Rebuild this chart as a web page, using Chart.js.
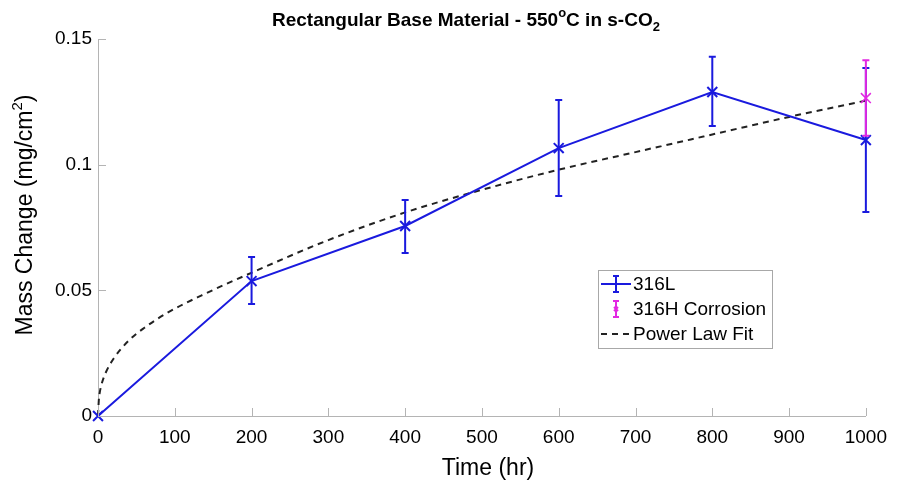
<!DOCTYPE html>
<html>
<head>
<meta charset="utf-8">
<script src="https://cdn.jsdelivr.net/npm/chart.js@4.4.1/dist/chart.umd.min.js"></script>
<style>
  html, body { margin: 0; padding: 0; background: #fff; }
  #wrap { width: 897px; height: 482px; }
</style>
</head>
<body>
<div id="wrap"><canvas id="massChart"></canvas></div>
<script>
const hours = [0, 200, 400, 600, 800, 1000];
const mass316L = [0, 0.0537, 0.0756, 0.1066, 0.1289, 0.1098];
const err316LUp = [0, 0.0096, 0.0103, 0.0191, 0.0140, 0.0287];
const err316LDown = [0, 0.0091, 0.0107, 0.0191, 0.0135, 0.0286];

const hours316H = [1000];
const mass316H = [0.1265];
const err316HUp = [0.0150];
const err316HDown = [0.0150];

// power law fit curve, sampled from the figure
const fitHours = [0, 1, 2, 5, 10, 20, 40, 60, 90, 135, 200, 300, 400, 500, 600, 700, 800, 900, 1000];
const fitMass = [0, 0.006, 0.0088, 0.013, 0.0172, 0.0227, 0.030, 0.035, 0.041, 0.048, 0.057, 0.070, 0.081, 0.090, 0.098, 0.105, 0.112, 0.119, 0.1255];

const xTicks = [0, 100, 200, 300, 400, 500, 600, 700, 800, 900, 1000];
const yTicks = [0, 0.05, 0.1, 0.15];
const yTickLabels = ['0', '0.05', '0.1', '0.15'];

const BLUE = 'rgb(26,26,222)';
const MAGENTA = 'rgb(226,40,226)';
const AXIS_GRAY = '#b4b4b4';
const FONT = '"Liberation Sans", Arial, Helvetica, sans-serif';

function toPoints(xs, ys) {
    return xs.map((x, i) => ({ x: x, y: ys[i] }));
}

// draws vertical error bars for datasets that carry errUp / errDown
const errorBars = {
    id: 'errorBars',
    afterDatasetDraw(chart, args) {
        const ds = chart.data.datasets[args.index];
        if (!ds.errUp) return;
        const ctx = chart.ctx;
        const xs = chart.scales.x, ys = chart.scales.y;
        ctx.save();
        ctx.strokeStyle = ds.borderColor;
        ctx.lineWidth = 2;
        ds.data.forEach((p, i) => {
            const px = xs.getPixelForValue(p.x);
            const top = ys.getPixelForValue(p.y + ds.errUp[i]);
            const bot = ys.getPixelForValue(p.y - ds.errDown[i]);
            if (Math.abs(bot - top) < 1) return;
            ctx.beginPath();
            ctx.moveTo(px, top); ctx.lineTo(px, bot);
            ctx.moveTo(px - 3.5, top); ctx.lineTo(px + 3.5, top);
            ctx.moveTo(px - 3.5, bot); ctx.lineTo(px + 3.5, bot);
            ctx.stroke();
        });
        ctx.restore();
    }
};

// inward ticks, titles and the legend box
const decorations = {
    id: 'decorations',
    afterDraw(chart) {
        const ctx = chart.ctx;
        const area = chart.chartArea;
        const xs = chart.scales.x, ys = chart.scales.y;
        ctx.save();

        // inward tick marks
        ctx.strokeStyle = AXIS_GRAY;
        ctx.lineWidth = 1;
        ctx.beginPath();
        xTicks.forEach(v => {
            const px = Math.round(xs.getPixelForValue(v)) + 0.5;
            ctx.moveTo(px, area.bottom); ctx.lineTo(px, area.bottom - 8);
        });
        yTicks.forEach(v => {
            const py = Math.round(ys.getPixelForValue(v)) + 0.5;
            ctx.moveTo(area.left, py); ctx.lineTo(area.left + 8, py);
        });
        ctx.stroke();

        ctx.fillStyle = '#000';
        ctx.textBaseline = 'alphabetic';

        // chart title with superscript / subscript
        const big = 'bold 19px ' + FONT;
        const small = 'bold 13px ' + FONT;
        const parts = [
            { t: 'Rectangular Base Material - 550', f: big, dy: 0 },
            { t: 'o', f: small, dy: -9 },
            { t: 'C in s-CO', f: big, dy: 0 },
            { t: '2', f: small, dy: 5 }
        ];
        let tx = 272;
        const ty = 26;
        ctx.textAlign = 'left';
        parts.forEach(p => {
            ctx.font = p.f;
            ctx.fillText(p.t, tx, ty + p.dy);
            tx += ctx.measureText(p.t).width;
        });

        // x axis title
        ctx.font = '23px ' + FONT;
        ctx.textAlign = 'center';
        ctx.fillText('Time (hr)', 488, 475);

        // y axis title, rotated, with superscript 2
        ctx.save();
        ctx.translate(32, 215);
        ctx.rotate(-Math.PI / 2);
        const yMain = 'Mass Change (mg/cm';
        ctx.font = '23px ' + FONT;
        const w1 = ctx.measureText(yMain).width;
        const w3 = ctx.measureText(')').width;
        ctx.font = '15px ' + FONT;
        const w2 = ctx.measureText('2').width;
        const sx = -(w1 + w2 + w3) / 2;
        ctx.textAlign = 'left';
        ctx.font = '23px ' + FONT;
        ctx.fillText(yMain, sx, 0);
        ctx.font = '15px ' + FONT;
        ctx.fillText('2', sx + w1, -10);
        ctx.font = '23px ' + FONT;
        ctx.fillText(')', sx + w1 + w2, 0);
        ctx.restore();

        // legend
        const lx = 598, ly = 270, lw = 174, lh = 78;
        ctx.fillStyle = '#fff';
        ctx.fillRect(lx, ly, lw, lh);
        ctx.strokeStyle = '#a8a8a8';
        ctx.lineWidth = 1;
        ctx.strokeRect(lx + 0.5, ly + 0.5, lw, lh);

        const rows = [ly + 14, ly + 39, ly + 64];
        const symX = lx + 18;
        ctx.lineWidth = 2;

        // 316L: line + error bar
        ctx.strokeStyle = BLUE;
        ctx.beginPath();
        ctx.moveTo(lx + 3, rows[0]); ctx.lineTo(lx + 33, rows[0]);
        ctx.moveTo(symX, rows[0] - 8); ctx.lineTo(symX, rows[0] + 8);
        ctx.moveTo(symX - 3, rows[0] - 8); ctx.lineTo(symX + 3, rows[0] - 8);
        ctx.moveTo(symX - 3, rows[0] + 8); ctx.lineTo(symX + 3, rows[0] + 8);
        ctx.stroke();

        // 316H: error bar only
        ctx.strokeStyle = MAGENTA;
        ctx.beginPath();
        ctx.moveTo(symX, rows[1] - 8); ctx.lineTo(symX, rows[1] + 8);
        ctx.moveTo(symX - 3, rows[1] - 8); ctx.lineTo(symX + 3, rows[1] - 8);
        ctx.moveTo(symX - 3, rows[1] + 8); ctx.lineTo(symX + 3, rows[1] + 8);
        ctx.moveTo(symX - 2, rows[1] - 2); ctx.lineTo(symX + 2, rows[1] + 2);
        ctx.moveTo(symX - 2, rows[1] + 2); ctx.lineTo(symX + 2, rows[1] - 2);
        ctx.stroke();

        // power law fit: dashed
        ctx.strokeStyle = '#222';
        ctx.setLineDash([6, 5]);
        ctx.beginPath();
        ctx.moveTo(lx + 3, rows[2]); ctx.lineTo(lx + 33, rows[2]);
        ctx.stroke();
        ctx.setLineDash([]);

        ctx.fillStyle = '#000';
        ctx.font = '19px ' + FONT;
        ctx.textAlign = 'left';
        ctx.textBaseline = 'middle';
        ctx.fillText('316L', lx + 35, rows[0] + 1);
        ctx.fillText('316H Corrosion', lx + 35, rows[1] + 1);
        ctx.fillText('Power Law Fit', lx + 35, rows[2] + 1);

        ctx.restore();
    }
};

const ctx = document.getElementById('massChart').getContext('2d');
const massChart = new Chart(ctx, {
    type: 'scatter',
    data: {
        datasets: [
            {
                label: '316H Corrosion',
                data: toPoints(hours316H, mass316H),
                errUp: err316HUp,
                errDown: err316HDown,
                showLine: false,
                clip: false,
                borderColor: MAGENTA,
                backgroundColor: MAGENTA,
                pointStyle: 'crossRot',
                pointRadius: 7,
                pointBorderWidth: 1.5,
                order: 0
            },
            {
                label: '316L',
                data: toPoints(hours, mass316L),
                errUp: err316LUp,
                errDown: err316LDown,
                showLine: true,
                clip: false,
                borderColor: BLUE,
                backgroundColor: BLUE,
                borderWidth: 2,
                pointStyle: 'crossRot',
                pointRadius: 7,
                pointBorderWidth: 2,
                order: 1
            },
            {
                label: 'Power Law Fit',
                data: toPoints(fitHours, fitMass),
                showLine: true,
                clip: false,
                borderColor: '#222',
                borderWidth: 2,
                borderDash: [6, 5],
                cubicInterpolationMode: 'monotone',
                pointRadius: 0,
                order: 2
            }
        ]
    },
    options: {
        responsive: true,
        maintainAspectRatio: false,
        animation: false,
        layout: { padding: { top: 39, right: 29, left: 0, bottom: 0 } },
        plugins: {
            legend: { display: false },
            title: { display: false },
            tooltip: { enabled: false }
        },
        scales: {
            x: {
                type: 'linear',
                min: 0,
                max: 1000,
                afterBuildTicks: (scale) => { scale.ticks = xTicks.map(v => ({ value: v })); },
                afterFit: (scale) => { scale.height = 66; },
                grid: { display: false, drawTicks: false },
                border: { display: true, color: AXIS_GRAY, width: 1 },
                ticks: {
                    padding: 10,
                    color: '#000',
                    font: { family: FONT, size: 19 },
                    maxRotation: 0,
                    callback: (v) => String(v)
                }
            },
            y: {
                type: 'linear',
                min: 0,
                max: 0.15,
                afterBuildTicks: (scale) => { scale.ticks = yTicks.map(v => ({ value: v })); },
                afterFit: (scale) => { scale.width = 98; },
                grid: { display: false, drawTicks: false },
                border: { display: true, color: AXIS_GRAY, width: 1 },
                ticks: {
                    padding: 6,
                    color: '#000',
                    font: { family: FONT, size: 19 },
                    callback: (v, i) => yTickLabels[i]
                }
            }
        }
    },
    plugins: [errorBars, decorations]
});
</script>
</body>
</html>
